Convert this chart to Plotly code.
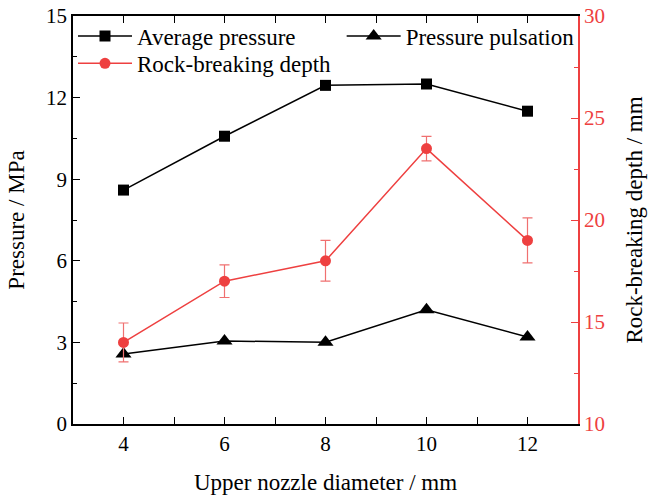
import plotly.graph_objects as go

diameter = [4, 6, 8, 10, 12]
avg_pressure = [8.6, 10.58, 12.45, 12.5, 11.5]
pulsation = [2.57, 3.05, 3.01, 4.2, 3.2]
rock_depth = [14.0, 17.0, 18.0, 23.5, 19.0]
rock_err = [0.95, 0.8, 1.0, 0.6, 1.1]

RED = "#EE4040"
FONT = "Liberation Serif"

fig = go.Figure()
fig.add_trace(go.Scatter(x=diameter, y=avg_pressure, name="Average pressure", legend="legend",
                         mode="lines+markers", line=dict(color="black", width=1.5),
                         marker=dict(symbol="square", size=11, color="black")))
fig.add_trace(go.Scatter(x=diameter, y=pulsation, name="Pressure pulsation", legend="legend2",
                         mode="lines+markers", line=dict(color="black", width=1.5),
                         marker=dict(symbol="triangle-up", size=14, color="black")))
fig.add_trace(go.Scatter(x=diameter, y=rock_depth, name="Rock-breaking depth", yaxis="y2",
                         legend="legend3",
                         mode="lines+markers", line=dict(color=RED, width=1.5),
                         marker=dict(symbol="circle", size=11, color=RED),
                         error_y=dict(type="data", array=rock_err, color="#F07070",
                                      thickness=1.2, width=5)))

leg_common = dict(orientation="v", xanchor="left", yanchor="middle", itemwidth=54,
                  bgcolor="rgba(0,0,0,0)", font=dict(family=FONT, size=23))

fig.update_layout(
    width=649, height=496,
    margin=dict(l=73, r=71, t=16, b=72),
    paper_bgcolor="white", plot_bgcolor="white",
    font=dict(family=FONT, size=21, color="black"),
    showlegend=True,
    legend=dict(x=0.0, y=0.951, **leg_common),
    legend2=dict(x=0.532, y=0.951, **leg_common),
    legend3=dict(x=0.0, y=0.884, **leg_common),
    xaxis=dict(range=[3, 13], tickvals=[4, 6, 8, 10, 12], showgrid=False, zeroline=False,
               showline=True, linecolor="black", linewidth=1.5, mirror="allticks",
               ticks="inside", ticklen=7, tickwidth=1, tickcolor="black", automargin=False,
               minor=dict(tickvals=[5, 7, 9, 11], ticks="inside", ticklen=4, tickcolor="black"),
               title=dict(text="Upper nozzle diameter / mm", font=dict(size=23), standoff=19),
               tickfont=dict(size=21)),
    yaxis=dict(range=[0, 15], tickvals=[0, 3, 6, 9, 12, 15], showgrid=False, zeroline=False,
               showline=True, linecolor="black", linewidth=1.5, automargin=False,
               ticks="inside", ticklen=7, tickwidth=1, tickcolor="black",
               minor=dict(tickvals=[1.5, 4.5, 7.5, 10.5, 13.5], ticks="inside", ticklen=4,
                          tickcolor="black"),
               title=dict(text="Pressure / MPa", font=dict(size=23), standoff=15),
               tickfont=dict(size=21)),
    yaxis2=dict(range=[10, 30], tickvals=[10, 15, 20, 25, 30], overlaying="y", side="right",
                showgrid=False, zeroline=False, showline=True, linecolor=RED, linewidth=1.5,
                ticks="inside", ticklen=7, tickwidth=1, tickcolor=RED, automargin=False,
                minor=dict(tickvals=[12.5, 17.5, 22.5, 27.5], ticks="inside", ticklen=4,
                           tickcolor=RED),
                tickfont=dict(size=21, color=RED),
                title=dict(text="Rock-breaking depth / mm", font=dict(size=23, color="black"),
                           standoff=22)),
)

fig.write_html("out.html")
